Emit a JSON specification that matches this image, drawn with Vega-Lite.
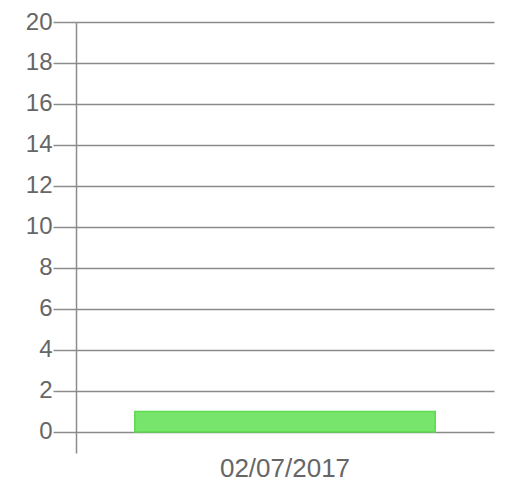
{
  "$schema": "https://vega.github.io/schema/vega-lite/v6.json",
  "autosize": "none",
  "width": 418,
  "height": 431,
  "padding": {"left": 76, "top": 22, "right": 17, "bottom": 30},
  "background": "white",
  "config": {"view": {"stroke": null}},
  "data": {"values": [{"date": "02/07/2017", "count": 1}]},
  "mark": {"type": "bar", "fill": "#77e56b", "stroke": "#5fd94f", "strokeWidth": 1.5},
  "encoding": {
    "x": {
      "field": "date", "type": "nominal",
      "scale": {"paddingInner": 0.1635, "paddingOuter": 0.1635},
      "axis": {"title": null, "domain": false, "ticks": false, "labelAngle": 0, "labelFont": "Liberation Sans", "labelFontSize": 26, "labelColor": "#666666", "labelPadding": 2}
    },
    "y": {
      "field": "count", "type": "quantitative",
      "scale": {"domain": [-1.03, 20], "nice": false, "zero": false},
      "axis": {"title": null, "values": [0,2,4,6,8,10,12,14,16,18,20], "tickSize": 23, "tickWidth": 1.5, "tickColor": "#8c8c8c", "gridColor": "#8a8a8a", "gridWidth": 1.5, "grid": true, "domainColor": "#8c8c8c", "domainWidth": 1.5, "labelFont": "Liberation Sans", "labelFontSize": 24, "labelColor": "#666666", "labelPadding": 1, "labelBaseline": "middle"}
    },
    "y2": {"datum": 0}
  }
}
